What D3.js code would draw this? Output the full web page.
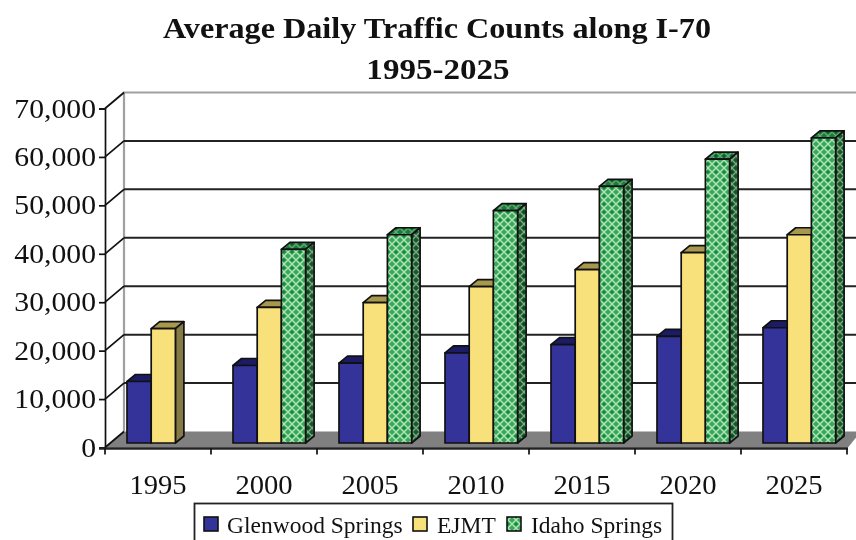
<!DOCTYPE html>
<html><head><meta charset="utf-8">
<script src="https://cdn.jsdelivr.net/npm/d3@7/dist/d3.min.js"></script>
<style>html,body{margin:0;padding:0;background:#fff;overflow:hidden}svg{display:block;filter:blur(0.6px)}text{font-family:"Liberation Serif",serif;fill:#111}</style>
</head><body><svg id="c" width="856" height="540"></svg>
<script>
const years=["1995","2000","2005","2010","2015","2020","2025"];
const seriesNames=["Glenwood Springs","EJMT","Idaho Springs"];
const glenwood=[12700,16000,16500,18600,20300,22000,23800];
const ejmt=[23600,28000,29000,32300,35800,39300,43000];
const idaho=[null,40000,43000,48000,53000,58600,63000];
const seriesValues=[glenwood,ejmt,idaho];
const yTicks=[0,10000,20000,30000,40000,50000,60000,70000];
const faces=[["#333399","#1c1c66","#14144d"],["#f8e07a","#a8984e","#857a45"],["url(#gF)","url(#gT)","url(#gS)"]];

const svg=d3.select("#c");
const defs=svg.append("defs");
function lattice(id,base,line,cross){
  const p=defs.append("pattern").attr("id",id).attr("width",8).attr("height",8).attr("patternUnits","userSpaceOnUse");
  p.append("rect").attr("width",8).attr("height",8).attr("fill",base);
  p.append("path").attr("d","M4 0L8 4L4 8L0 4Z").attr("fill","none").attr("stroke",line).attr("stroke-width",1.3);
  p.append("path").attr("d","M4 2.4V5.6M2.4 4H5.6").attr("stroke",cross).attr("stroke-width",1.6);
}
lattice("gF","#3aa75c","#b4e6b8","#0b8a3a");
lattice("gT","#1d7a3c","#5cae72","#0c5a28");
lattice("gS","#17592d","#7fae84","#0a4a20");

function stretch(sel,f){sel.each(function(){const t=d3.select(this);t.attr("textLength",this.getComputedTextLength()*f).attr("lengthAdjust","spacingAndGlyphs");});}

const left=105,right=847,dx=19,dy=-16;
const x=d3.scaleBand().domain(years).range([left,right]);
const y=d3.scaleLinear().domain([0,70000]).range([447.5,108.5]);
const barW=24.2,bdx=8.5,bdy=-7,barDrop=-4.5,barShift=-31;
const W=856;

svg.append("path").attr("fill","#808080")
  .attr("d",`M${left} ${y(0)}L${left+dx} ${y(0)+dy}H${W}V${y(0)+dy+6}L${right+1} ${y(0)}Z`);
svg.append("path").attr("fill","none").attr("stroke","#a0a0a0").attr("stroke-width",2.2)
  .attr("d",`M${left+dx} ${y(0)+dy}V${y(70000)+dy}H${W}`);
svg.append("g").selectAll("line").data(yTicks.slice(1,-1)).join("line")
  .attr("x1",left+dx).attr("x2",W).attr("y1",d=>y(d)+dy).attr("y2",d=>y(d)+dy)
  .attr("stroke","#222").attr("stroke-width",2);
svg.append("g").selectAll("line").data(yTicks).join("line")
  .attr("x1",left).attr("x2",left+dx).attr("y1",d=>y(d)).attr("y2",d=>y(d)+dy)
  .attr("stroke","#111").attr("stroke-width",1.7);
years.forEach((yr,i)=>{
  seriesValues.forEach((vals,s)=>{
    const v=vals[i]; if(v==null) return;
    const x0=x(yr)+x.bandwidth()/2+barShift+s*barW, x1=x0+barW;
    const yb=y(0)+barDrop, yt=y(v)+barDrop;
    const g=svg.append("g").attr("stroke","#111").attr("stroke-width",1.7).attr("stroke-linejoin","round");
    g.append("path").attr("fill",faces[s][1]).attr("d",`M${x0} ${yt}L${x0+bdx} ${yt+bdy}H${x1+bdx}L${x1} ${yt}Z`);
    g.append("path").attr("fill",faces[s][2]).attr("d",`M${x1} ${yt}L${x1+bdx} ${yt+bdy}V${yb+bdy}L${x1} ${yb}Z`);
    g.append("rect").attr("x",x0).attr("y",yt).attr("width",barW).attr("height",yb-yt).attr("fill",faces[s][0]);
  });
});
const axY=d3.axisLeft(y).tickValues(yTicks).tickFormat(d3.format(",")).tickSize(6).tickPadding(3);
const gy=svg.append("g").attr("transform",`translate(${left},0)`).call(axY);
gy.selectAll("text").style("font-size","27px").call(stretch,1.1);
gy.selectAll("path,line").attr("stroke","#111").attr("stroke-width",1.7);
const axX=d3.axisBottom(x).tickSize(0).tickPadding(0);
const gx=svg.append("g").attr("transform",`translate(0,${y(0)+1})`).call(axX);
gx.selectAll("path,.tick line").remove();
gx.selectAll("text").attr("y",26).style("font-size","27px").call(stretch,1.06);
svg.append("path").attr("stroke","#222").attr("stroke-width",2.6).attr("fill","none").attr("d",`M${left-6} ${y(0)+1}H${right+1}`);
svg.append("g").selectAll("line").data(years.map((d)=>x(d)).concat([right])).join("line")
  .attr("x1",d=>d).attr("x2",d=>d).attr("y1",y(0)+1).attr("y2",y(0)+7).attr("stroke","#111").attr("stroke-width",1.7);
svg.append("text").attr("x",437).attr("y",38).attr("text-anchor","middle").attr("font-weight","bold").style("font-size","29px").text("Average Daily Traffic Counts along I-70").call(stretch,1.11);
svg.append("text").attr("x",438).attr("y",79).attr("text-anchor","middle").attr("font-weight","bold").style("font-size","29px").text("1995-2025").call(stretch,1.14);
const lg=svg.append("g");
lg.append("rect").attr("x",194.5).attr("y",503.5).attr("width",478).attr("height",44).attr("fill","#fff").attr("stroke","#222").attr("stroke-width",1.8);
const lgX=[204,413,507],lgTx=[227,437,531];
seriesNames.forEach((n,s)=>{
  lg.append("rect").attr("x",lgX[s]).attr("y",517).attr("width",14).attr("height",14).attr("fill",s==2?"url(#gF)":faces[s][0]).attr("stroke","#111").attr("stroke-width",1.6);
  lg.append("text").attr("x",lgTx[s]).attr("y",533).style("font-size","23.5px").text(n);
});
</script></body></html>
